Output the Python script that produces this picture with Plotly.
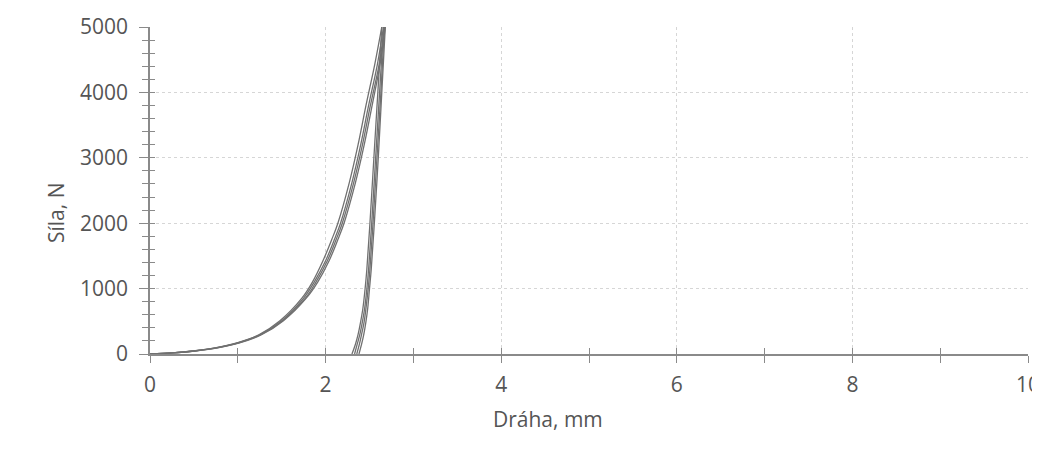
import plotly.graph_objects as go

# Loading branch: force levels (N) and path per cycle (mm)
load_force = [0, 17, 46, 93, 170, 294, 509, 854, 1100, 1426, 1750, 2000, 2620, 3200, 3800, 4430, 5000]
load_c1 = [0, 0.25, 0.49, 0.74, 0.99, 1.24, 1.48, 1.73, 1.85, 1.97, 2.07, 2.14, 2.27, 2.37, 2.46, 2.56, 2.64]
load_c2 = [0, 0.25, 0.50, 0.75, 1.00, 1.25, 1.50, 1.75, 1.87, 2.00, 2.10, 2.17, 2.30, 2.40, 2.49, 2.59, 2.66]
load_c3 = [0, 0.26, 0.51, 0.76, 1.01, 1.26, 1.51, 1.77, 1.89, 2.02, 2.12, 2.19, 2.32, 2.42, 2.51, 2.61, 2.67]
load_c4 = [0, 0.26, 0.51, 0.77, 1.02, 1.27, 1.52, 1.78, 1.91, 2.04, 2.14, 2.21, 2.34, 2.44, 2.53, 2.62, 2.68]

# Unloading branch
unload_force = [5000, 4000, 3000, 2000, 1300, 1000, 700, 500, 300, 150, 0]
unload_c1 = [2.64, 2.595, 2.55, 2.505, 2.47, 2.45, 2.425, 2.40, 2.37, 2.34, 2.30]
unload_c2 = [2.66, 2.615, 2.57, 2.525, 2.49, 2.47, 2.445, 2.42, 2.39, 2.36, 2.33]
unload_c3 = [2.67, 2.63, 2.585, 2.54, 2.505, 2.485, 2.46, 2.44, 2.41, 2.385, 2.355]
unload_c4 = [2.68, 2.64, 2.60, 2.555, 2.52, 2.50, 2.48, 2.46, 2.435, 2.41, 2.38]

x_ticks = [0, 2, 4, 6, 8, 10]
y_ticks = [0, 1000, 2000, 3000, 4000, 5000]

LINE = "#707070"
AX = "#8a8a8a"
TXT = "#555555"
FONT = "Open Sans"

fig = go.Figure()
for xs in [load_c1, load_c2, load_c3, load_c4]:
    fig.add_trace(go.Scatter(x=xs, y=load_force, mode="lines",
                             line=dict(color=LINE, width=1.3, shape="spline", smoothing=1.0),
                             hoverinfo="skip", showlegend=False, cliponaxis=False))
for xs in [unload_c1, unload_c2, unload_c3, unload_c4]:
    fig.add_trace(go.Scatter(x=xs, y=unload_force, mode="lines",
                             line=dict(color=LINE, width=1.3, shape="spline", smoothing=1.0),
                             hoverinfo="skip", showlegend=False, cliponaxis=False))
# carrier trace for overlay axes (inner halves of the crossing ticks)
fig.add_trace(go.Scatter(x=[None], y=[None], xaxis="x2", yaxis="y2", showlegend=False, hoverinfo="skip"))

# page body adds an 8px offset; figure is sized so the plot area lands at x 150..1028, y 27..354
fig.update_layout(
    width=1040, height=434,
    margin=dict(l=142, r=20, t=19, b=88),
    paper_bgcolor="white", plot_bgcolor="white",
    font=dict(family=FONT, color=TXT),
    xaxis=dict(
        range=[0, 10], tickvals=x_ticks, ticks="outside", ticklen=7, tickcolor=AX, tickwidth=1.2,
        ticklabelstandoff=4, automargin=False, ticklabeloverflow="allow",
        minor=dict(dtick=1, ticks="outside", ticklen=7, tickcolor=AX, showgrid=False),
        showgrid=True, gridcolor="#d6d6d6", griddash="dot", gridwidth=1,
        showline=True, linecolor=AX, linewidth=1.6, zeroline=False,
        tickfont=dict(size=21, color=TXT, family=FONT),
    ),
    yaxis=dict(
        range=[0, 5000], tickvals=y_ticks, ticks="outside", ticklen=9, tickcolor=AX, tickwidth=1.2,
        ticklabelstandoff=7, automargin=False, ticklabeloverflow="allow",
        minor=dict(dtick=200, ticks="outside", ticklen=6, tickcolor=AX, showgrid=False),
        showgrid=True, gridcolor="#d6d6d6", griddash="dot", gridwidth=1,
        showline=True, linecolor=AX, linewidth=1.6, zeroline=False,
        tickfont=dict(size=21, color=TXT, family=FONT),
    ),
    xaxis2=dict(
        range=[0, 10], overlaying="x", anchor="y2", tickvals=x_ticks, ticks="inside", ticklen=6,
        tickcolor=AX, tickwidth=1.2, showticklabels=False, showgrid=False, zeroline=False,
        automargin=False,
        minor=dict(dtick=1, ticks="inside", ticklen=6, tickcolor=AX, showgrid=False), side="bottom",
    ),
    yaxis2=dict(
        range=[0, 5000], overlaying="y", anchor="x2", tickvals=y_ticks, ticks="inside", ticklen=5,
        tickcolor=AX, tickwidth=1.2, showticklabels=False, showgrid=False, zeroline=False,
        automargin=False,
        minor=dict(dtick=200, ticks="inside", ticklen=5, tickcolor=AX, showgrid=False), side="left",
    ),
    annotations=[
        dict(text="Dráha, mm", xref="paper", yref="paper", x=(548 - 150) / 878, y=(354 - 419) / 327,
             xanchor="center", yanchor="middle", showarrow=False,
             font=dict(size=21, color=TXT, family=FONT)),
        dict(text="Síla, N", xref="paper", yref="paper", x=(56 - 150) / 878, y=(354 - 213) / 327,
             xanchor="center", yanchor="middle", showarrow=False, textangle=-90,
             font=dict(size=21, color=TXT, family=FONT)),
    ],
)

fig.write_html("out.html")
